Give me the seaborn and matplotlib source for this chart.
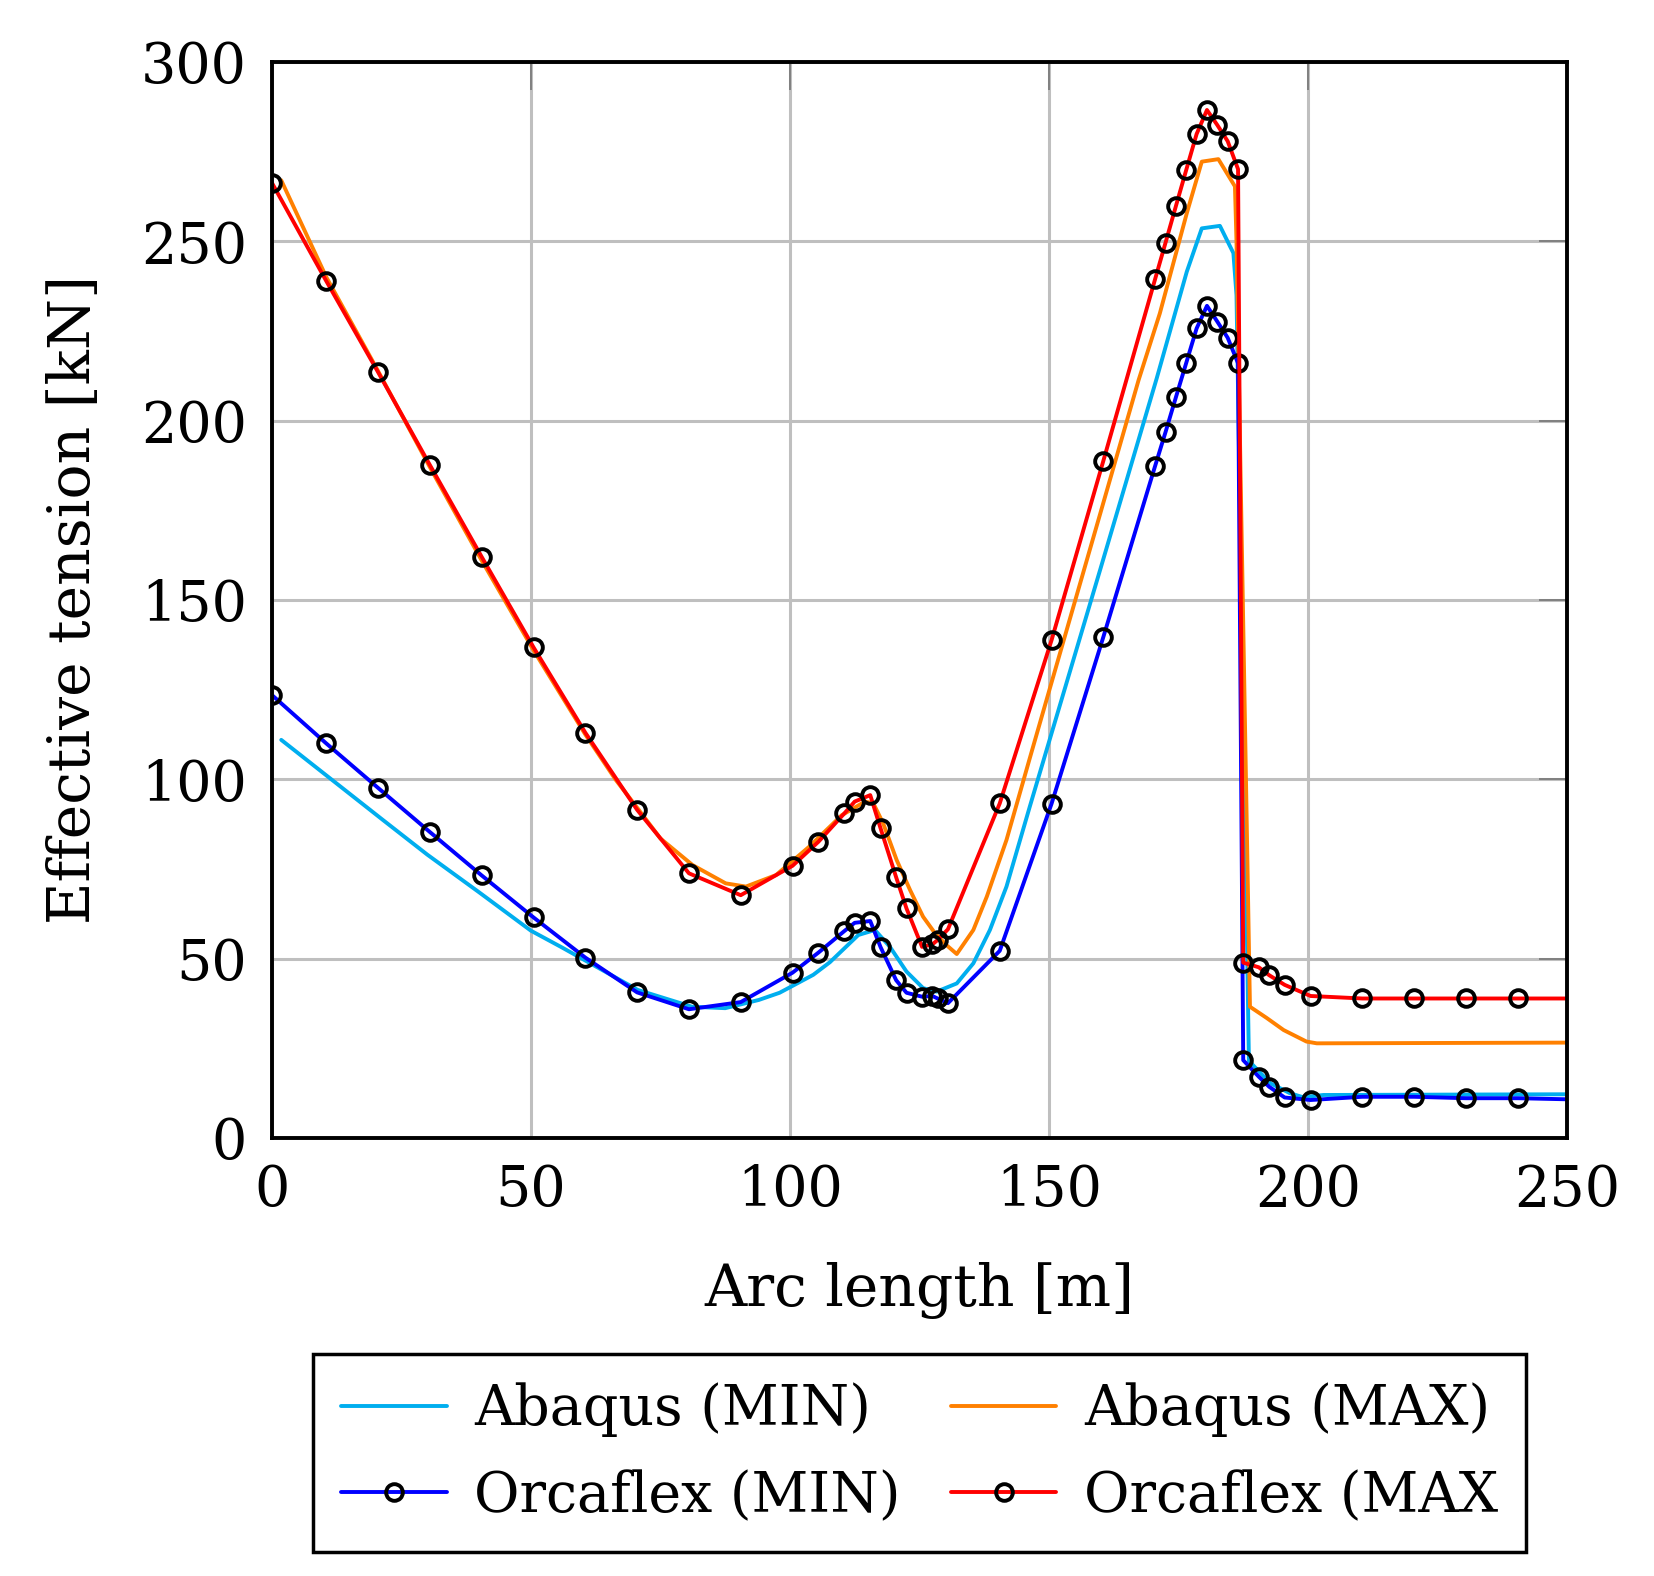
import numpy as np
import pandas as pd
import seaborn as sns
import matplotlib.pyplot as plt

# ---- dados ----
# Orcaflex (com marcadores)
x_orca = [0, 10.5, 20.5, 30.5, 40.5, 50.5, 60.5, 70.5, 80.5, 90.5, 100.5, 105.5,
          110.5, 112.5, 115.5, 117.5, 120.5, 122.5, 125.5, 127.5, 128.5, 130.5,
          140.5, 150.5, 160.5, 170.5, 172.5, 174.5, 176.5, 178.5, 180.5, 182.5,
          184.5, 186.5, 187.5, 190.5, 192.5, 195.5, 200.5, 210.5, 220.5, 230.5,
          240.5, 250]
orca_max = [266.3, 238.9, 213.5, 187.6, 162.0, 136.8, 113.0, 91.5, 73.8, 67.7, 75.9, 82.6,
            90.5, 93.8, 95.6, 86.3, 72.7, 64.0, 53.3, 54.0, 55.2, 58.2,
            93.3, 138.8, 188.8, 239.5, 249.6, 259.8, 269.9, 279.9, 286.6, 282.4,
            277.9, 270.1, 48.9, 47.6, 45.4, 42.7, 39.6, 38.9, 38.9, 38.9,
            38.9, 38.9]
orca_min = [123.5, 110.0, 97.6, 85.3, 73.2, 61.5, 50.3, 40.6, 35.9, 37.9, 46.1, 51.7,
            57.7, 60.0, 60.5, 53.2, 44.0, 40.5, 39.4, 39.6, 38.9, 37.6,
            52.2, 93.2, 139.7, 187.4, 196.8, 206.5, 216.1, 225.7, 232.0, 227.6,
            223.1, 216.0, 21.7, 17.1, 14.3, 11.3, 10.6, 11.5, 11.5, 11.1,
            11.1, 10.8]

# Abaqus (so linha)
x_abq_max = [1.8, 10.5, 20.5, 30.5, 40.5, 50.5, 60.5, 66.4, 70.6, 75.0, 81.2, 87.6,
             91.5, 97.3, 103.7, 110.0, 114.5, 116.1, 118.0, 120.6, 123.2, 125.7,
             128.0, 130.2, 132.2, 135.4, 138.0, 141.8, 146.3, 150.0, 160.0, 167.3,
             171.4, 176.6, 179.5, 182.7, 185.9, 186.2, 188.8, 192.0, 195.3, 199.7,
             201.7, 250]
abq_max = [267.0, 240.0, 213.8, 187.0, 161.0, 136.0, 112.5, 99.8, 91.9, 83.5, 76.1, 71.0,
           70.1, 73.3, 81.2, 90.0, 93.8, 93.3, 87.7, 77.5, 69.1, 61.7,
           57.1, 53.8, 51.3, 58.0, 67.3, 83.1, 105.9, 124.5, 174.6, 211.3,
           229.9, 257.8, 272.2, 272.9, 265.3, 250.0, 36.6, 33.5, 30.1, 26.9,
           26.4, 26.6]

x_abq_min = [1.8, 21.4, 30.0, 40.0, 50.0, 55.9, 60.6, 70.6, 81.1, 87.5, 94.0, 98.0,
             101.0, 104.5, 107.7, 113.2, 116.4, 119.3, 122.5, 125.7, 128.3, 132.2,
             135.4, 138.6, 141.8, 146.3, 150.0, 160.0, 170.8, 176.6, 179.5, 183.0,
             185.6, 186.2, 188.6, 192.7, 196.5, 199.0, 203.0, 250]
abq_min = [111.0, 88.7, 79.0, 68.5, 57.8, 53.2, 49.4, 41.3, 36.6, 36.2, 38.5, 40.5,
           42.8, 45.5, 49.0, 56.6, 58.0, 53.3, 46.4, 41.8, 40.8, 43.1,
           48.7, 58.0, 70.1, 92.4, 110.4, 159.0, 211.8, 241.5, 253.6, 254.3,
           246.7, 235.0, 21.5, 15.3, 12.5, 11.4, 12.0, 12.2]

series = [
    ("Abaqus (MIN)", x_abq_min, abq_min, "#00AEEF", False),
    ("Abaqus (MAX)", x_abq_max, abq_max, "#FF8000", False),
    ("Orcaflex (MIN)", x_orca, orca_min, "#0000FF", True),
    ("Orcaflex (MAX", x_orca, orca_max, "#FF0000", True),
]

sns.set_theme(style="whitegrid")
plt.rcParams['font.family'] = ['DejaVu Serif']
plt.rcParams['text.color'] = 'black'

fig = plt.figure(figsize=(16.54, 15.76), dpi=100)
ax = fig.add_axes([0.1644, 0.2779, 0.9474 - 0.1644, 0.9607 - 0.2779])

for nome, xs, ys, cor, marca in series:
    df = pd.DataFrame({"x": xs, "y": ys})
    kw = dict(color=cor, linewidth=2.8, label=nome)
    if marca:
        kw.update(marker="o", markersize=12, markerfacecolor="none",
                  markeredgecolor="black", markeredgewidth=2.8,
                  markevery=list(range(len(xs) - 1)))
    sns.lineplot(data=df, x="x", y="y", sort=False, estimator=None, ax=ax, **kw)

ax.set_xlim(0, 250)
ax.set_ylim(0, 300)
ax.set_xticks(np.arange(0, 251, 50))
ax.set_yticks(np.arange(0, 301, 50))
ax.grid(True, color="#BFBFBF", linewidth=2.2)
ax.tick_params(direction="in", length=20, width=1.4, color="#808080",
               labelsize=40, pad=18, top=True, right=True,
               labelcolor="black")
for s in ax.spines.values():
    s.set_color("black")
    s.set_linewidth(2.8)

ax.set_xlabel("Arc length [m]", fontsize=42, labelpad=32, color="black")
ax.set_ylabel("Effective tension [kN]", fontsize=42, labelpad=28, color="black")

handles, labels = ax.get_legend_handles_labels()
ax.get_legend().remove()
ordem = [0, 2, 1, 3]
leg = fig.legend([handles[i] for i in ordem], [labels[i] for i in ordem],
                 loc="center", bbox_to_anchor=(0.556, 0.078), ncol=2,
                 fontsize=40, frameon=True, fancybox=False, framealpha=1,
                 edgecolor="black", handlelength=1.9, columnspacing=0.9,
                 handletextpad=0.5, borderpad=0.5, labelspacing=0.58)
leg.get_frame().set_linewidth(2.5)
for t in leg.get_texts():
    t.set_color("black")

fig.savefig("out.png", dpi=100)
